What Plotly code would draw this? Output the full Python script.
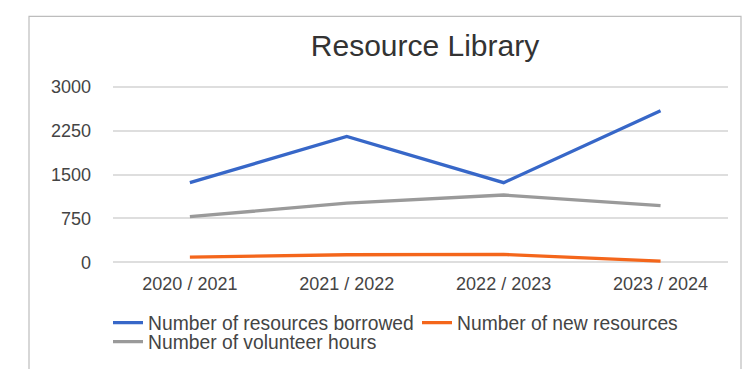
import plotly.graph_objects as go

categories = ["2020 / 2021", "2021 / 2022", "2022 / 2023", "2023 / 2024"]
borrowed = [1360, 2150, 1360, 2590]
new_resources = [90, 130, 135, 20]
volunteer_hours = [780, 1010, 1150, 970]
y_ticks = [0, 750, 1500, 2250, 3000]

W, H = 750, 369
y_lo, y_hi = -45, 3045
scale = 175 / 3000  # px per unit (0 at y=262, 3000 at y=87)
L, R = 113, 728
T = 87 - (y_hi - 3000) * scale
B = 262 + (0 - y_lo) * scale

fig = go.Figure()
fig.add_trace(go.Scatter(x=categories, y=borrowed, mode="lines",
                         name="Number of resources borrowed", legend="legend",
                         line=dict(color="#3767c8", width=3.3)))
fig.add_trace(go.Scatter(x=categories, y=new_resources, mode="lines",
                         name="Number of new resources", legend="legend",
                         line=dict(color="#f4661b", width=3.3)))
fig.add_trace(go.Scatter(x=categories, y=volunteer_hours, mode="lines",
                         name="Number of volunteer hours", legend="legend2",
                         line=dict(color="#9a9a9a", width=3.3)))

pw, ph = R - L, B - T
def px(x):
    return (x - L) / pw
def py(y):
    return (B - y) / ph

fig.add_shape(type="rect", xref="paper", yref="paper",
              x0=px(29), x1=px(741), y0=py(380), y1=py(17),
              line=dict(color="#bdbdbd", width=1.2), fillcolor="rgba(0,0,0,0)", layer="below")

legend_common = dict(orientation="h", xanchor="left", yanchor="top",
                     font=dict(size=19.3, color="#444444"), bgcolor="rgba(0,0,0,0)",
                     itemwidth=30)

fig.update_layout(
    width=W, height=H,
    margin=dict(l=L, r=W - R, t=T, b=H - B, pad=0, autoexpand=False),
    paper_bgcolor="white", plot_bgcolor="white",
    font=dict(family="Liberation Sans, Arial, sans-serif", color="#444444"),
    title=dict(text="Resource Library", x=425 / W, xref="container", xanchor="center",
               y=1 - 45 / H, yref="container", yanchor="middle",
               font=dict(size=30, color="#333333")),
    xaxis=dict(range=[-0.49, 3.43], showgrid=False, showline=False, zeroline=False,
               tickfont=dict(size=18, color="#444444"), ticklabelstandoff=6),
    yaxis=dict(range=[y_lo, y_hi], tickvals=y_ticks, ticktext=[str(v) for v in y_ticks],
               showgrid=True, gridcolor="#dedede", gridwidth=1.5,
               zeroline=False, showline=False,
               tickfont=dict(size=18, color="#444444"), ticklabelstandoff=21),
    legend=dict(x=px(108), y=py(303), entrywidth=264, entrywidthmode="pixels", **legend_common),
    legend2=dict(x=px(108), y=py(322), **legend_common),
    showlegend=True,
)

fig.write_html("out.html")
